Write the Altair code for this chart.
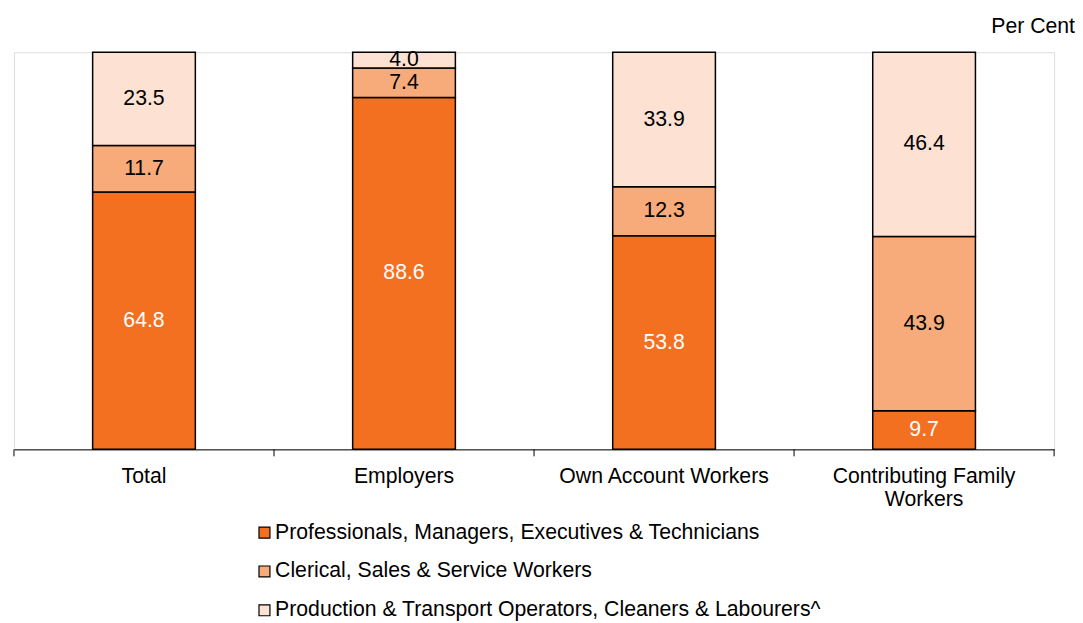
import altair as alt
import pandas as pd

categories = ["Total", "Employers", "Own Account Workers", "Contributing Family Workers"]
groups = [
    "Professionals, Managers, Executives & Technicians",
    "Clerical, Sales & Service Workers",
    "Production & Transport Operators, Cleaners & Labourers^",
]
professionals = [64.8, 88.6, 53.8, 9.7]
clerical = [11.7, 7.4, 12.3, 43.9]
production = [23.5, 4.0, 33.9, 46.4]
colors = ["#F37021", "#F7AA7A", "#FDE1D3"]
label_colors = ["white", "black", "black"]

rows = []
for i, c in enumerate(categories):
    for g, (name, vals) in enumerate(zip(groups, [professionals, clerical, production])):
        rows.append({"cat": c, "grp": name, "order": g, "val": vals[i],
                     "lab": f"{vals[i]:.1f}", "tc": label_colors[g]})
df = pd.DataFrame(rows)

FONT = "Liberation Sans"
FS = 21.33
W, H = 1045, 399

xenc = alt.X("cat:N", sort=categories, scale=alt.Scale(paddingInner=0, paddingOuter=0),
             axis=alt.Axis(title=None, labelAngle=0, ticks=False, labelFontSize=FS,
                           labelFont=FONT, labelColor="black", labelPadding=16,
                           domainColor="black", domainWidth=1, labelLineHeight=23,
                           labelLimit=0,
                           labelExpr="datum.label == 'Contributing Family Workers' ? ['Contributing Family', 'Workers'] : datum.label"))

base = alt.Chart(df)

bars = base.mark_bar(stroke="black", strokeWidth=1.5, width=alt.RelativeBandSize(0.395)).encode(
    x=xenc,
    y=alt.Y("val:Q", stack="zero", scale=alt.Scale(domain=[0, 100]), axis=None),
    color=alt.Color("grp:N", sort=groups,
                    scale=alt.Scale(domain=groups, range=colors),
                    legend=alt.Legend(title=None, orient="none", legendX=241, legendY=472,
                                      direction="vertical", symbolType="square", symbolSize=121,
                                      symbolStrokeColor="black", symbolStrokeWidth=1.2,
                                      labelFontSize=FS, labelFont=FONT, labelColor="black",
                                      labelOffset=0, rowPadding=17, labelLimit=0)),
    order=alt.Order("order:Q"),
)

texts = base.transform_stack(
    stack="val", groupby=["cat"], as_=["y0", "y1"], sort=[alt.SortField("order")]
).transform_calculate(mid="(datum.y0 + datum.y1) / 2").mark_text(
    fontSize=FS, font=FONT, baseline="middle"
).encode(
    x=alt.X("cat:N", sort=categories),
    y=alt.Y("mid:Q"),
    text="lab:N",
    color=alt.Color("tc:N", scale=None, legend=None),
)

tick_df = pd.DataFrame({"cat": categories})
ticks = alt.Chart(tick_df).mark_rule(color="black", strokeWidth=1).encode(
    x=alt.X("cat:N", sort=categories, bandPosition=0),
    y=alt.value(H), y2=alt.value(H + 7),
)
end_tick = alt.Chart(tick_df.head(1)).mark_rule(color="black", strokeWidth=1).encode(
    x=alt.value(W), y=alt.value(H), y2=alt.value(H + 7),
)
percent = alt.Chart(tick_df.head(1)).mark_text(
    text="Per Cent", fontSize=FS, font=FONT, align="right", baseline="alphabetic", color="black"
).encode(x=alt.value(1066), y=alt.value(-19))

chart = alt.layer(bars, texts, ticks, end_tick, percent).properties(
    width=W, height=H,
    autosize=alt.AutoSizeParams(type="none"),
    padding={"left": 6, "top": 43, "right": 21, "bottom": 172},
).configure_view(stroke=None).configure(background="white")

chart.save("out.html", embed_options={"renderer": "svg", "actions": False})
